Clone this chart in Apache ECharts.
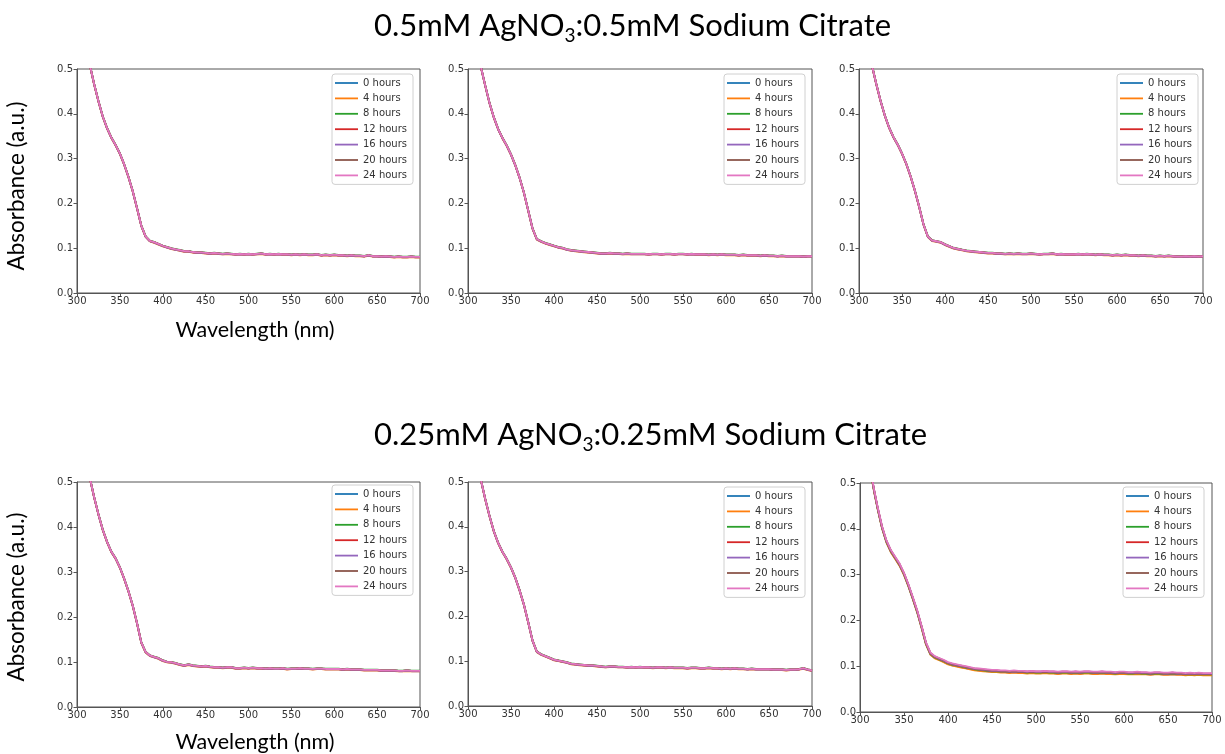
<!DOCTYPE html>
<html>
<head>
<meta charset="utf-8">
<title>UV-Vis absorbance over time</title>
<script src="https://cdn.jsdelivr.net/npm/echarts@6/dist/echarts.min.js"></script>
<style>
  html, body { margin: 0; padding: 0; background: #fff; }
  #chart { width: 1225px; height: 754px; }
</style>
</head>
<body>
<div id="chart"></div>
<script>
// wavelength grid (nm)
const wavelengths = [310, 316, 320, 325, 330, 335, 340, 345, 350, 355, 360, 365, 370, 375, 380, 385, 390, 395, 400,
  405, 410, 415, 420, 425, 430, 435, 440, 445, 450,
  455, 460, 465, 470, 475, 480, 485, 490, 495, 500,
  505, 510, 515, 520, 525, 530, 535, 540, 545, 550,
  555, 560, 565, 570, 575, 580, 585, 590, 595, 600,
  605, 610, 615, 620, 625, 630, 635, 640, 645, 650,
  655, 660, 665, 670, 675, 680, 685, 690, 695, 700]

const hours = ['0 hours', '4 hours', '8 hours', '12 hours', '16 hours', '20 hours', '24 hours']
const colors = ['#1f77b4', '#ff7f0e', '#2ca02c', '#d62728', '#9467bd', '#8c564b', '#e377c2']

// 0.5 mM row
const absTopLeft = [0.545, 0.500, 0.466, 0.428, 0.394, 0.368, 0.347, 0.330, 0.311, 0.287, 0.259, 0.227, 0.189, 0.150, 0.126, 0.116, 0.113, 0.109, 0.105,
  0.102, 0.099, 0.097, 0.095, 0.093, 0.093, 0.091, 0.090, 0.090, 0.089,
  0.088, 0.089, 0.088, 0.087, 0.088, 0.087, 0.086, 0.087, 0.086, 0.087,
  0.086, 0.087, 0.088, 0.086, 0.087, 0.086, 0.087, 0.086, 0.086, 0.085,
  0.086, 0.085, 0.086, 0.085, 0.085, 0.086, 0.084, 0.085, 0.084, 0.085,
  0.084, 0.084, 0.083, 0.084, 0.083, 0.083, 0.082, 0.084, 0.082, 0.082,
  0.081, 0.082, 0.081, 0.080, 0.081, 0.080, 0.080, 0.081, 0.080, 0.080]
const absTopMid = [0.548, 0.496, 0.463, 0.424, 0.392, 0.366, 0.346, 0.329, 0.309, 0.285, 0.257, 0.224, 0.184, 0.144, 0.120, 0.115, 0.111, 0.108, 0.105,
  0.102, 0.100, 0.097, 0.095, 0.094, 0.093, 0.092, 0.091, 0.090, 0.089,
  0.088, 0.088, 0.089, 0.088, 0.088, 0.087, 0.088, 0.087, 0.087, 0.087,
  0.087, 0.086, 0.087, 0.087, 0.086, 0.087, 0.087, 0.086, 0.087, 0.087,
  0.086, 0.087, 0.086, 0.086, 0.086, 0.085, 0.086, 0.085, 0.086, 0.085,
  0.085, 0.085, 0.084, 0.085, 0.084, 0.084, 0.084, 0.083, 0.084, 0.083,
  0.083, 0.082, 0.083, 0.082, 0.082, 0.082, 0.082, 0.081, 0.082, 0.082]
const absTopRight = [0.545, 0.500, 0.467, 0.429, 0.396, 0.369, 0.348, 0.331, 0.311, 0.288, 0.260, 0.228, 0.192, 0.153, 0.126, 0.117, 0.115, 0.113, 0.108,
  0.104, 0.100, 0.098, 0.096, 0.094, 0.093, 0.092, 0.091, 0.090, 0.089,
  0.089, 0.088, 0.088, 0.087, 0.088, 0.087, 0.088, 0.087, 0.087, 0.088,
  0.087, 0.086, 0.087, 0.087, 0.088, 0.086, 0.087, 0.086, 0.086, 0.086,
  0.087, 0.086, 0.087, 0.086, 0.085, 0.086, 0.085, 0.085, 0.084, 0.085,
  0.084, 0.085, 0.084, 0.084, 0.083, 0.084, 0.083, 0.083, 0.082, 0.083,
  0.082, 0.083, 0.082, 0.081, 0.081, 0.082, 0.081, 0.082, 0.081, 0.082]

// 0.25 mM row
const absBotLeft = [0.548, 0.500, 0.466, 0.428, 0.394, 0.367, 0.345, 0.330, 0.310, 0.285, 0.257, 0.225, 0.186, 0.143, 0.122, 0.114, 0.111, 0.108, 0.103,
  0.100, 0.099, 0.097, 0.094, 0.092, 0.094, 0.092, 0.091, 0.090, 0.091,
  0.089, 0.088, 0.088, 0.087, 0.088, 0.088, 0.086, 0.086, 0.087, 0.086,
  0.087, 0.086, 0.086, 0.085, 0.086, 0.085, 0.085, 0.086, 0.084, 0.085,
  0.085, 0.086, 0.085, 0.085, 0.084, 0.085, 0.085, 0.084, 0.084, 0.084,
  0.084, 0.083, 0.084, 0.083, 0.083, 0.083, 0.082, 0.082, 0.082, 0.082,
  0.081, 0.081, 0.081, 0.081, 0.080, 0.080, 0.081, 0.080, 0.080, 0.080]
const absBotMid = [0.550, 0.496, 0.462, 0.424, 0.390, 0.364, 0.344, 0.328, 0.309, 0.286, 0.258, 0.226, 0.187, 0.146, 0.121, 0.115, 0.111, 0.107, 0.103,
  0.101, 0.099, 0.097, 0.094, 0.093, 0.092, 0.091, 0.090, 0.090, 0.089,
  0.088, 0.087, 0.088, 0.088, 0.087, 0.087, 0.086, 0.087, 0.086, 0.087,
  0.086, 0.086, 0.085, 0.086, 0.086, 0.085, 0.086, 0.085, 0.085, 0.085,
  0.084, 0.085, 0.085, 0.084, 0.084, 0.085, 0.084, 0.084, 0.083, 0.084,
  0.083, 0.084, 0.083, 0.083, 0.082, 0.083, 0.082, 0.082, 0.082, 0.082,
  0.081, 0.081, 0.081, 0.080, 0.081, 0.081, 0.082, 0.084, 0.081, 0.079]
const absBotRight = [0.548, 0.484, 0.446, 0.404, 0.373, 0.352, 0.337, 0.322, 0.302, 0.277, 0.249, 0.220, 0.186, 0.150, 0.128, 0.120, 0.116, 0.112, 0.107,
  0.104, 0.102, 0.100, 0.098, 0.096, 0.094, 0.093, 0.092, 0.091, 0.090,
  0.090, 0.089, 0.089, 0.088, 0.089, 0.088, 0.088, 0.087, 0.088, 0.087,
  0.087, 0.088, 0.087, 0.087, 0.086, 0.087, 0.087, 0.086, 0.087, 0.086,
  0.087, 0.087, 0.086, 0.086, 0.087, 0.086, 0.086, 0.085, 0.086, 0.086,
  0.085, 0.085, 0.086, 0.085, 0.085, 0.084, 0.085, 0.085, 0.084, 0.084,
  0.085, 0.084, 0.084, 0.083, 0.084, 0.083, 0.084, 0.083, 0.083, 0.083]

// small spread between the time points
const driftSmall = [0.000, -0.001, 0.001, 0.000, -0.0005, 0.0005, 0.0005]
const driftWide = [-0.002, -0.003, -0.001, 0.000, 0.000, 0.001, 0.002]

const xTicks = [300, 350, 400, 450, 500, 550, 600, 650, 700]
const yTicks = [0.0, 0.1, 0.2, 0.3, 0.4, 0.5]

const panels = [
  { abs: absTopLeft, drift: driftSmall, grid: { left: 77, top: 69, width: 343, height: 224 }, legend: { left: 332, top: 74 } },
  { abs: absTopMid, drift: driftSmall, grid: { left: 468, top: 69, width: 344, height: 224 }, legend: { left: 724, top: 74 } },
  { abs: absTopRight, drift: driftSmall, grid: { left: 859, top: 69, width: 344, height: 224 }, legend: { left: 1117, top: 74 } },
  { abs: absBotLeft, drift: driftSmall, grid: { left: 77, top: 482, width: 343, height: 225 }, legend: { left: 332, top: 485 } },
  { abs: absBotMid, drift: driftSmall, grid: { left: 468, top: 482, width: 344, height: 224 }, legend: { left: 724, top: 487 } },
  { abs: absBotRight, drift: driftWide, grid: { left: 860, top: 483, width: 352, height: 229 }, legend: { left: 1123, top: 487 } }
]

const chart = echarts.init(document.getElementById('chart'))

const tickFont = { fontFamily: 'DejaVu Sans', fontSize: 10, color: '#333' }
const spine = '#555'
const labelFont = 'Lato'

const grids = []
const xAxes = []
const yAxes = []
const legends = []
const series = []

panels.forEach((p, i) => {
  grids.push({ ...p.grid, show: true, borderColor: spine, borderWidth: 1, backgroundColor: '#fff' })
  xAxes.push({
    type: 'value',
    gridIndex: i,
    min: xTicks[0],
    max: xTicks[xTicks.length - 1],
    interval: 50,
    axisLine: { show: true, lineStyle: { color: spine, width: 1 } },
    axisTick: { show: true, length: 3.5, lineStyle: { color: spine } },
    axisLabel: { ...tickFont, margin: 3, showMinLabel: true, showMaxLabel: true },
    splitLine: { show: false }
  })
  yAxes.push({
    type: 'value',
    gridIndex: i,
    min: yTicks[0],
    max: yTicks[yTicks.length - 1],
    interval: 0.1,
    axisLine: { show: true, lineStyle: { color: spine, width: 1 } },
    axisTick: { show: true, length: 3.5, lineStyle: { color: spine } },
    axisLabel: { ...tickFont, margin: 4, formatter: v => v.toFixed(1) },
    splitLine: { show: false }
  })
  legends.push({
    orient: 'vertical',
    left: p.legend.left,
    top: p.legend.top,
    data: hours,
    icon: 'path://M0,0h23v1.8h-23z',
    symbolKeepAspect: true,
    itemWidth: 23,
    itemHeight: 10,
    itemGap: 5.4,
    padding: [4, 6, 4, 3],
    borderColor: '#d0d0d0',
    borderWidth: 1,
    borderRadius: 3,
    backgroundColor: 'rgba(255,255,255,0.85)',
    textStyle: { fontFamily: 'DejaVu Sans', fontSize: 10, color: '#333' },
    selectedMode: false
  })
  hours.forEach((h, k) => {
    series.push({
      name: h,
      type: 'line',
      xAxisIndex: i,
      yAxisIndex: i,
      symbol: 'none',
      showSymbol: false,
      clip: true,
      animation: false,
      color: colors[k],
      lineStyle: { color: colors[k], width: 1.8 },
      data: wavelengths.map((w, j) => [w, p.abs[j] + p.drift[k]])
    })
  })
})

const titleStyle = {
  fontFamily: labelFont,
  fontSize: 31,
  fontWeight: 'normal',
  color: '#000',
  lineHeight: 38,
  rich: {
    sub: { fontFamily: labelFont, fontSize: 19, lineHeight: 19, verticalAlign: 'bottom', color: '#000' }
  }
}

const axisTitle = (text, x, y, rotated, size) => ({
  type: 'text',
  x: x,
  y: y,
  rotation: rotated ? Math.PI / 2 : 0,
  style: { text: text, fontFamily: labelFont, fontSize: size, fill: '#000', textAlign: 'center', textVerticalAlign: 'middle' }
})

const option = {
  backgroundColor: '#fff',
  animation: false,
  title: [
    { text: '0.5mM AgNO{sub|3}:0.5mM Sodium Citrate', left: 374, top: 7, padding: 0, textStyle: titleStyle },
    { text: '0.25mM AgNO{sub|3}:0.25mM Sodium Citrate', left: 374, top: 416, padding: 0, textStyle: titleStyle }
  ],
  grid: grids,
  xAxis: xAxes,
  yAxis: yAxes,
  legend: legends,
  series: series,
  graphic: [
    axisTitle('Absorbance (a.u.)', 17, 186, true, 22.5),
    axisTitle('Absorbance (a.u.)', 17, 597, true, 22.5),
    axisTitle('Wavelength (nm)', 255, 330, false, 21.5),
    axisTitle('Wavelength (nm)', 255, 742, false, 21.5)
  ]
}

chart.setOption(option)
</script>
</body>
</html>
